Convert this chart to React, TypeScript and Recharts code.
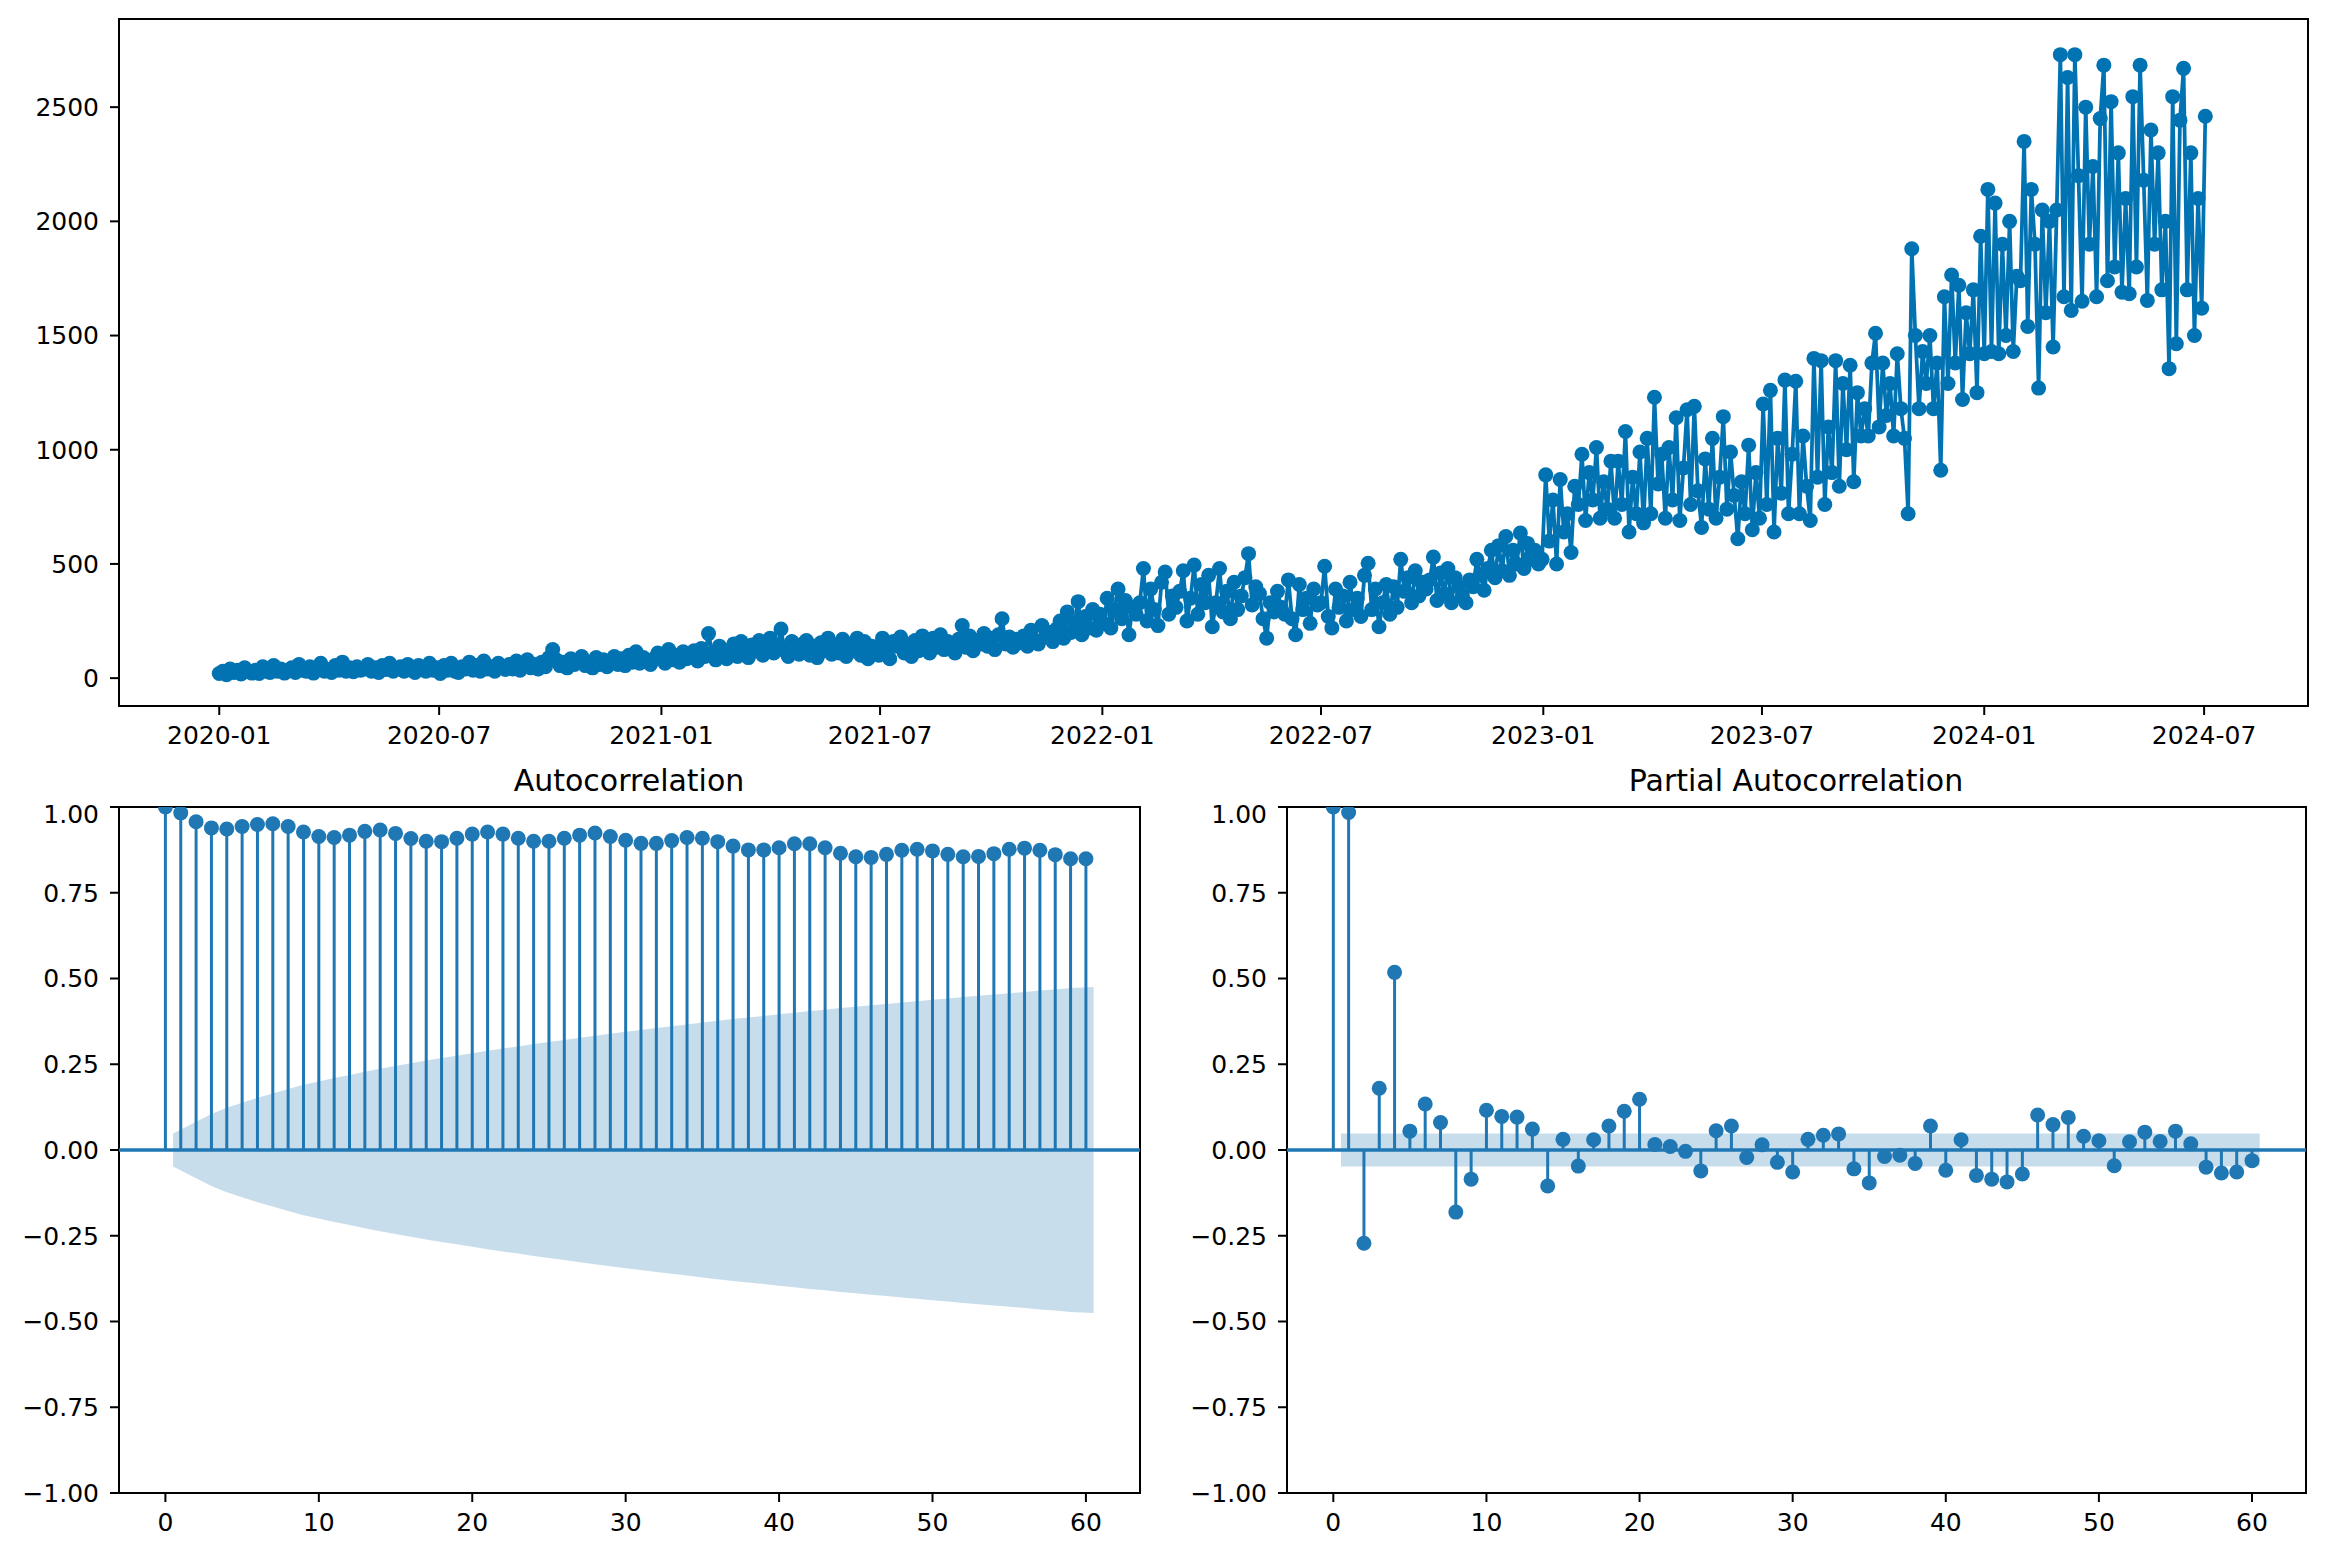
import {
  LineChart,
  ComposedChart,
  Line,
  Area,
  XAxis,
  YAxis,
  ReferenceArea,
  ReferenceLine,
} from "recharts";

// daily series sampled every 3 days starting 2020-01-01
const stepDays = 3;
const seg2020 = [
  20, 30, 15, 40, 25, 35, 18, 45, 28, 22,
  35, 20, 50, 30, 25, 55, 30, 40, 22, 35,
  45, 25, 60, 35, 30, 50, 22, 40, 65, 30,
  38, 25, 55, 35, 70, 30, 45, 28, 50, 35,
  40, 60, 30, 45, 25, 55, 38, 65, 30, 42,
  50, 30, 60, 35, 25, 55, 40, 30, 65, 35,
  45, 20, 55, 35, 65, 30, 25, 50, 40, 70,
  35, 55, 30, 75, 40, 50, 30, 65, 45, 38,
  60, 40, 75, 35, 55, 80, 45, 60, 40, 70,
  50, 90, 125, 80, 55, 70, 45, 85, 60, 75,
  95, 55, 70, 45, 90, 60, 80, 50, 75, 95,
  60, 85, 55, 100, 70, 115, 65, 90, 75, 60, 85, 110,
];
const seg2021 = [
  90, 65, 125, 80, 100, 70, 115, 85, 95, 120,
  75, 130, 95, 195, 110, 80, 140, 100, 85, 125,
  150, 95, 160, 110, 90, 145, 120, 165, 100, 130,
  175, 110, 140, 215, 120, 95, 160, 130, 105, 150,
  165, 100, 140, 90, 155, 120, 175, 105, 145, 110,
  170, 95, 150, 120, 175, 100, 160, 85, 140, 125,
  100, 175, 130, 85, 160, 140, 180, 110, 150, 95,
  165, 120, 185, 140, 110, 175, 135, 190, 125, 160,
  145, 110, 170, 230, 135, 185, 120, 165, 150, 195,
  140, 175, 125, 190, 260, 150, 180, 135, 170, 155,
  185, 140, 210, 165, 150, 230, 180, 200, 160, 215,
  250, 175, 290, 200, 240, 335, 190, 270, 220, 300, 210, 280,
];
const seg2022 = [
  240, 350, 220, 300, 390, 260, 340, 190, 310, 280,
  330, 480, 250, 390, 300, 230, 420, 465, 280, 360,
  310, 380, 470, 250, 350, 495, 280, 410, 330, 450,
  225, 330, 480, 290, 380, 260, 420, 300, 360, 440,
  545, 320, 400, 370, 260, 175, 330, 290, 380, 310,
  280, 430, 260, 190, 410, 300, 350, 240, 390, 320,
  330, 490, 270, 220, 390, 310, 360, 250, 420, 300,
  350, 270, 450, 503, 300, 390, 225, 330, 410, 280,
  400, 310, 520, 380, 440, 330, 470, 360, 420, 390,
  430, 530, 340, 460, 370, 480, 330, 440, 400, 360,
  330, 430, 400, 520, 450, 385, 480, 560, 440, 580,
  470, 620, 450, 560, 500, 635, 480, 590, 520, 560, 500,
];
const seg2023 = [
  520, 890, 600, 780, 500, 870, 640, 720, 550, 840,
  760, 980, 690, 900, 780, 1010, 700, 860, 740, 950,
  700, 950, 760, 1080, 640, 880, 720, 990, 680, 1050,
  720, 1230, 850, 980, 700, 1010, 780, 1140, 690, 920,
  1175, 760, 1190, 820, 660, 960, 740, 1050, 700, 880,
  1145, 740, 990, 800, 610, 860, 720, 1020, 650, 900,
  700, 1200, 760, 1260, 640, 1050, 810, 1305, 720, 980,
  1300, 720, 1060, 840, 690, 1400, 880, 1390, 760, 1100,
  900, 1390, 840, 1290, 1000, 1370, 860, 1250, 1060, 1180,
  1060, 1380, 1510, 1100, 1380, 1150, 1290, 1060, 1420, 1180,
  1050, 720, 1880, 1500, 1180, 1430, 1290, 1500, 1180, 1380,
  910, 1670, 1290, 1765, 1380, 1720, 1220, 1600, 1420, 1700, 1250, 1935,
];
const seg2024 = [
  1420, 2140, 1430, 2080, 1420, 1900, 1500, 2000, 1430, 1760,
  1740, 2350, 1540, 2140, 1900, 1270, 2050, 1600, 2000, 1450,
  2050, 2730, 1670, 2630, 1610, 2730, 2200, 1650, 2500, 1900,
  2240, 1670, 2450, 2684, 1740, 2524, 1800, 2300, 1690, 2100,
  1683, 2546, 1800, 2684, 2180, 1654, 2400, 1900, 2300, 1700,
  2000, 1355, 2546, 1464, 2443, 2670, 1700, 2300, 1500, 2100,
  1620, 2460,
];
const dateTickLabels = [
  "2020-01", "2020-07", "2021-01", "2021-07", "2022-01",
  "2022-07", "2023-01", "2023-07", "2024-01", "2024-07",
];
const valueTicks = [0, 500, 1000, 1500, 2000, 2500];

const acfValues = [
  1.0, 0.983, 0.957, 0.939, 0.936, 0.943, 0.949, 0.951, 0.943, 0.927,
  0.914, 0.911, 0.918, 0.929, 0.933, 0.923, 0.908, 0.9, 0.899, 0.909,
  0.921, 0.927, 0.921, 0.909, 0.9, 0.9, 0.909, 0.918, 0.924, 0.914,
  0.903, 0.894, 0.894, 0.902, 0.911, 0.909, 0.899, 0.886, 0.875, 0.875,
  0.881, 0.893, 0.893, 0.881, 0.865, 0.855, 0.853, 0.862, 0.874, 0.877,
  0.872, 0.862, 0.855, 0.856, 0.864, 0.877, 0.88, 0.874, 0.861, 0.849, 0.849,
];
// confidence half-width for lags 1..60
const acfConfBand = [
  0.048, 0.082, 0.105, 0.123, 0.138, 0.152, 0.165, 0.178, 0.19, 0.2,
  0.21, 0.219, 0.228, 0.237, 0.245, 0.253, 0.261, 0.268, 0.275, 0.282,
  0.289, 0.296, 0.302, 0.309, 0.315, 0.321, 0.327, 0.333, 0.339, 0.345,
  0.35, 0.356, 0.361, 0.366, 0.372, 0.377, 0.382, 0.386, 0.391, 0.396,
  0.4, 0.405, 0.409, 0.414, 0.418, 0.422, 0.426, 0.43, 0.434, 0.438,
  0.442, 0.446, 0.45, 0.453, 0.457, 0.461, 0.465, 0.468, 0.472, 0.475,
];
const pacfValues = [
  1.0, 0.984, -0.272, 0.18, 0.518, 0.055, 0.134, 0.08, -0.181, -0.085,
  0.116, 0.098, 0.096, 0.061, -0.105, 0.031, -0.047, 0.03, 0.07, 0.113,
  0.148, 0.016, 0.01, -0.004, -0.061, 0.056, 0.07, -0.022, 0.015, -0.036,
  -0.064, 0.031, 0.043, 0.047, -0.055, -0.096, -0.019, -0.015, -0.039, 0.07,
  -0.059, 0.03, -0.074, -0.085, -0.093, -0.07, 0.102, 0.074, 0.095, 0.04,
  0.027, -0.046, 0.024, 0.052, 0.025, 0.055, 0.018, -0.05, -0.067, -0.064, -0.031,
];
const pacfConf = 0.048;
const corrTicks = [-1, -0.75, -0.5, -0.25, 0, 0.25, 0.5, 0.75, 1];
const lagTicks = [0, 10, 20, 30, 40, 50, 60];

const seriesColor = "#0173b2";
const corrColor = "#1f77b4";
const font = "DejaVu Sans";
const tickStyle = { fontFamily: font, fontSize: 25, fill: "#000" };
const tickLine = { stroke: "#000", strokeWidth: 2 };

const dayOf = (label: string) =>
  (Date.UTC(+label.slice(0, 4), +label.slice(5, 7) - 1, 1) - Date.UTC(2020, 0, 1)) / 86400000;

const seriesData = [...seg2020, ...seg2021, ...seg2022, ...seg2023, ...seg2024].map(
  (value, i) => ({ day: i * stepDays, value })
);
const dateTicks = dateTickLabels.map(dayOf);
const labelOfDay = (d: number) => dateTickLabels[dateTicks.indexOf(d)] ?? "";

const fmtCorr = (v: number) => (v < 0 ? "\u2212" : "") + Math.abs(v).toFixed(2);

const lagDomain: [number, number] = [-3.025, 63.525];

function Correlogram({
  values,
  band,
  yAxisWidth,
  width,
}: {
  values: number[];
  band: number[];
  yAxisWidth: number;
  width: number;
}) {
  const points = values.map((value, lag) => ({ x: lag, value }));
  const bandData = band.map((c, i) => {
    const lag = i + 1;
    const x = lag === 1 ? 0.5 : lag === band.length ? lag + 0.5 : lag;
    return { x, band: [-c, c] };
  });
  return (
    <ComposedChart
      width={width}
      height={758}
      margin={{ top: 7, right: 20, left: 0, bottom: 0 }}
    >
      <XAxis
        type="number"
        dataKey="x"
        domain={lagDomain}
        allowDataOverflow
        ticks={lagTicks}
        axisLine={false}
        tickLine={tickLine}
        tickSize={9}
        tickMargin={11}
        tick={tickStyle}
        height={65}
      />
      <YAxis
        type="number"
        domain={[-1, 1]}
        allowDataOverflow
        ticks={corrTicks}
        tickFormatter={fmtCorr}
        axisLine={false}
        tickLine={tickLine}
        tickSize={9}
        tickMargin={11}
        tick={tickStyle}
        width={yAxisWidth}
      />
      <Area
        data={bandData}
        dataKey="band"
        type="linear"
        stroke="none"
        fill={corrColor}
        fillOpacity={0.25}
        isAnimationActive={false}
      />
      {points.map((p) => (
        <ReferenceLine
          key={p.x}
          segment={[
            { x: p.x, y: 0 },
            { x: p.x, y: p.value },
          ]}
          stroke={corrColor}
          strokeWidth={3}
        />
      ))}
      <ReferenceLine y={0} stroke={corrColor} strokeWidth={3.5} />
      <Line
        data={points}
        dataKey="value"
        stroke="none"
        dot={{ r: 7.5, fill: corrColor, stroke: corrColor, strokeWidth: 0 }}
        isAnimationActive={false}
      />
      <ReferenceArea
        x1={lagDomain[0]}
        x2={lagDomain[1]}
        y1={-1}
        y2={1}
        fill="none"
        stroke="#000"
        strokeWidth={2}
      />
    </ComposedChart>
  );
}

export default function App() {
  const pacfBand = pacfValues.slice(1).map(() => pacfConf);
  return (
    <div
      style={{
        position: "absolute",
        left: 0,
        top: 0,
        width: 2326,
        height: 1558,
        background: "#fff",
        fontFamily: font,
      }}
    >
      <div style={{ position: "absolute", left: 0, top: 0 }}>
        <LineChart
          width={2326}
          height={760}
          data={seriesData}
          margin={{ top: 19, right: 18, left: 0, bottom: 0 }}
        >
          <XAxis
            type="number"
            dataKey="day"
            domain={[-83, 1729]}
            allowDataOverflow
            ticks={dateTicks}
            tickFormatter={labelOfDay}
            axisLine={false}
            tickLine={tickLine}
            tickSize={9}
            tickMargin={11}
            tick={tickStyle}
            height={54}
          />
          <YAxis
            type="number"
            domain={[-122, 2886]}
            allowDataOverflow
            ticks={valueTicks}
            axisLine={false}
            tickLine={tickLine}
            tickSize={9}
            tickMargin={11}
            tick={tickStyle}
            width={119}
          />
          <Line
            dataKey="value"
            type="linear"
            stroke={seriesColor}
            strokeWidth={3.75}
            dot={{ r: 7.5, fill: seriesColor, stroke: seriesColor, strokeWidth: 0 }}
            isAnimationActive={false}
          />
          <ReferenceArea
            x1={-83}
            x2={1729}
            y1={-122}
            y2={2886}
            fill="none"
            stroke="#000"
            strokeWidth={2}
          />
        </LineChart>
      </div>
      <div style={{ position: "absolute", left: 0, top: 800 }}>
        <Correlogram values={acfValues} band={acfConfBand} yAxisWidth={119} width={1160} />
      </div>
      <div style={{ position: "absolute", left: 1163, top: 800 }}>
        <Correlogram values={pacfValues} band={pacfBand} yAxisWidth={124} width={1163} />
      </div>
      <svg
        width={2326}
        height={1558}
        style={{ position: "absolute", left: 0, top: 0, pointerEvents: "none" }}
      >
        <text x={629} y={791} textAnchor="middle" fontFamily={font} fontSize={30} fill="#000">
          Autocorrelation
        </text>
        <text x={1796} y={791} textAnchor="middle" fontFamily={font} fontSize={30} fill="#000">
          Partial Autocorrelation
        </text>
      </svg>
    </div>
  );
}
